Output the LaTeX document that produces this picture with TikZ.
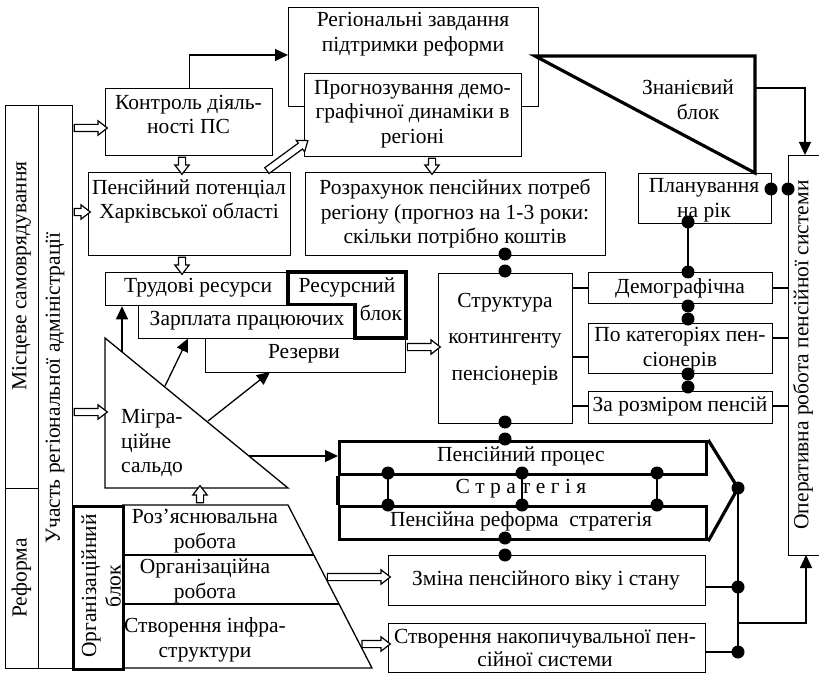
\documentclass[tikz,border=0pt]{standalone}
\usepackage{fontspec}
\setmainfont{Liberation Serif}
\usetikzlibrary{arrows.meta,calc,shapes.arrows}
\tikzset{
  ln/.style={line width=1.3pt},
  tk/.style={line width=3.2pt},
  box/.style={draw, line width=1.3pt, inner sep=0pt, anchor=north west, fill=white},
  tbox/.style={draw, line width=3.2pt, inner sep=0pt, anchor=north west},
  txt/.style={inner sep=0pt, align=center},
  bdot/.style={circle, fill=black, inner sep=0pt, minimum size=13pt},
  farr/.style={line width=1.3pt, -{Triangle[length=13pt,width=12pt]}},
  hol/.style={single arrow, draw, fill=white, line width=1.2pt, inner xsep=0pt, inner ysep=3pt,
    single arrow head extend=3.5pt, single arrow tip angle=75, sloped, allow upside down,
    minimum width=0pt, anchor=center}
}
\newcommand\holarrow[2]{\path let \p1=($(#2)-(#1)$), \n1={veclen(\x1,\y1)} in (#1) -- node[hol, minimum height=\n1] {} (#2);}
\begin{document}
\begin{tikzpicture}[x=1pt,y=-1pt,font=\fontsize{21.5}{24.5}\selectfont]
\useasboundingbox (0,0) rectangle (819,674);

% left strips
\node[box, minimum width=33pt, minimum height=383pt] (mist) at (5,105) {};
\node[box, minimum width=33pt, minimum height=180pt] (refb) at (5,488) {};
\node[box, minimum width=34pt, minimum height=563pt] (uch) at (38,105) {};
\node[txt, rotate=90] (tmist) at (21.5,276) {Місцеве самоврядування};
\node[txt, rotate=90] (tref) at (21.5,578) {Реформа};
\node[txt, rotate=90] (tuch) at (55,388) {Участь регіональної адміністрації};

% trapezoid
\draw[ln] (122,505) -- (288,505) -- (372,668) -- (122,668);
\draw[ln] (122,555) -- (313.8,555);
\draw[ln] (122,604) -- (339,604);
\node[txt] (t1) at (205,531) {Роз’яснювальна\\робота};
\node[txt] (t2) at (205,581) {Організаційна\\робота};
\node[txt] (t3) at (205,640) {Створення інфра-\\структури};

% organisational block
\node[tbox, minimum width=50pt, minimum height=163pt] (org) at (72,505) {};
\node[txt, rotate=90] (torg) at (101,586) {Організаційний\\блок};

% top blocks
\node[box, minimum width=167pt, minimum height=67pt] (kon) at (105,88) {};
\node[txt] (tkon) at (188.5,114.5) {Контроль діяль-\\ності ПС};
\node[box, minimum width=250pt, minimum height=99pt] (reg) at (288,7) {};
\node[txt] (treg) at (413,34) {Регіональні завдання\\підтримки реформи};
\node[box, minimum width=217pt, minimum height=83pt] (prog) at (304,73) {};
\node[txt] (tprog) at (412.5,114) {Прогнозування демо-\\графічної динаміки в\\регіоні};
\draw[farr] (kon.north) |- ([yshift=-48pt]reg.north west);

\node[box, minimum width=202pt, minimum height=83pt] (pot) at (88,172) {};
\node[txt] (tpot) at (189,201.5) {Пенсійний потенціал\\Харківської області};
\node[box, minimum width=300pt, minimum height=83pt] (roz) at (305,172) {};
\node[txt] (troz) at (455,214) {Розрахунок пенсійних потреб\\регіону (прогноз на 1-3 роки:\\скільки потрібно коштів};

% resource block
\node[box, minimum width=183pt, minimum height=33pt] (trud) at (105,272) {};
\node[txt] (ttrud) at (198,288) {Трудові ресурси};
\node[box, minimum width=217pt, minimum height=33pt] (zarp) at (138,305) {};
\node[txt] (tzarp) at (247,321) {Зарплата працюючих};
\node[box, minimum width=200pt, minimum height=34pt] (rez) at (205,338) {};
\node[txt] (trez) at (304,354) {Резерви};
\draw[tk] (288,272) -- (406,272) -- (406,338) -- (355,338) -- (355,304.5) -- (288,304.5) -- cycle;
\node[txt] (tres1) at (347,287) {Ресурсний};
\node[txt] (tres2) at (381,313) {блок};

% migration triangle
\draw[ln] (105,338) -- (105,488) -- (288,488) -- cycle;
\node[txt, align=left, anchor=west] (tmig) at (121,443) {Мігра-\\ційне\\сальдо};
\draw[farr] (122,352) -- (trud.south -| 122,305);
\draw[farr] (165,386) -- (188,338.5);
\draw[farr] (208,421) -- (270,372);
\draw[farr] (249,456) -- (338,456);

% structure
\node[box, minimum width=134pt, minimum height=150pt] (str) at (438,273) {};
\node[txt] (tstr) at (505,339) {Структура\\[12pt]контингенту\\[12pt]пенсіонерів};

% right column
\node[box, minimum width=133pt, minimum height=50pt] (plan) at (638,173) {};
\node[txt] (tplan) at (704,200) {Планування\\на рік};
\node[box, minimum width=184pt, minimum height=31pt] (dem) at (588,272) {};
\node[txt] (tdem) at (680,288) {Демографічна};
\node[box, minimum width=184pt, minimum height=50pt] (kat) at (588,323) {};
\node[txt] (tkat) at (680,349) {По категоріях пен-\\сіонерів};
\node[box, minimum width=184pt, minimum height=32pt] (rozm) at (588,391) {};
\node[txt] (trozm) at (680,406) {За розміром пенсій};

% knowledge block
\draw[tk] (535,56) -- (755,56) -- (755,173) -- cycle;
\node[txt] (tzn1) at (688,87) {Знанієвий};
\node[txt] (tzn2) at (698,112) {блок};
\node[box, minimum width=50pt, minimum height=400pt] (oper) at (788,155) {};
\node[txt, rotate=90] (toper) at (803,355) {Оперативна робота пенсійної системи};
\draw[farr] (755,88) -| (805,155);

% strategy block
\node[tbox, minimum width=367pt, minimum height=33pt] (proc) at (338,440) {};
\node[tbox, minimum width=367pt, minimum height=33pt] (pref) at (338,505) {};
\draw[tk] (proc.south west) -- (pref.north west);
\draw[tk] (proc.north east) -- (738,488) -- (pref.south east);
\node[txt] (tproc) at (521,456) {Пенсійний процес};
\node[txt] (tstrat) at (521,489) {С т р а т е г і я};
\node[txt] (tpref) at (521,521) {Пенсійна реформа\ \ стратегія};

\node[box, minimum width=317pt, minimum height=50pt] (zmin) at (388,555) {};
\node[txt] (tzmin) at (546,580) {Зміна пенсійного віку і стану};
\node[box, minimum width=317pt, minimum height=49pt] (stv) at (388,623) {};
\node[txt] (tstv) at (545,648) {Створення накопичувальної пен-\\[-2pt]сійної системи};

% connector lines
\draw[ln] (688,222) -- (688,272);
\draw[ln] (572,288) -- (588,288) (572,357) -- (588,357) (572,406) -- (588,406);
\draw[ln] (772,288) -- (788,288) (772,338) -- (788,338) (772,406) -- (788,406);
\draw[ln] (388,473) -- (388,505) (522,473) -- (522,505) (657,473) -- (657,505);
\draw[ln] (738,488) -- (738,652) (705,587) -- (738,587) (705,652) -- (738,652);
\draw[farr] (738,623) -| (806,555);

% dots
\foreach \p [count=\i] in {{771,189},{788,189},{688,222},{688,272},{688,306},{688,319},{688,374},{688,387},{505,254},{505,271},{505,422},{505,439},{505,538},{505,555},{388,473},{388,505},{522,473},{522,505},{657,473},{657,505},{738,488},{738,587},{738,652}}
  \node[bdot] (d\i) at (\p) {};

% hollow arrows
\holarrow{72,128}{105,128}
\holarrow{72,212}{88,212}
\holarrow{72,412}{105,412}
\holarrow{182,155}{182,172}
\holarrow{182,255}{182,272}
\holarrow{265,172}{306,142}
\holarrow{432,156}{432,172}
\holarrow{405,347}{438,347}
\holarrow{200,505}{200,488}
\holarrow{325,577}{388,577}
\holarrow{359.6,644}{388,644}
\end{tikzpicture}
\end{document}
